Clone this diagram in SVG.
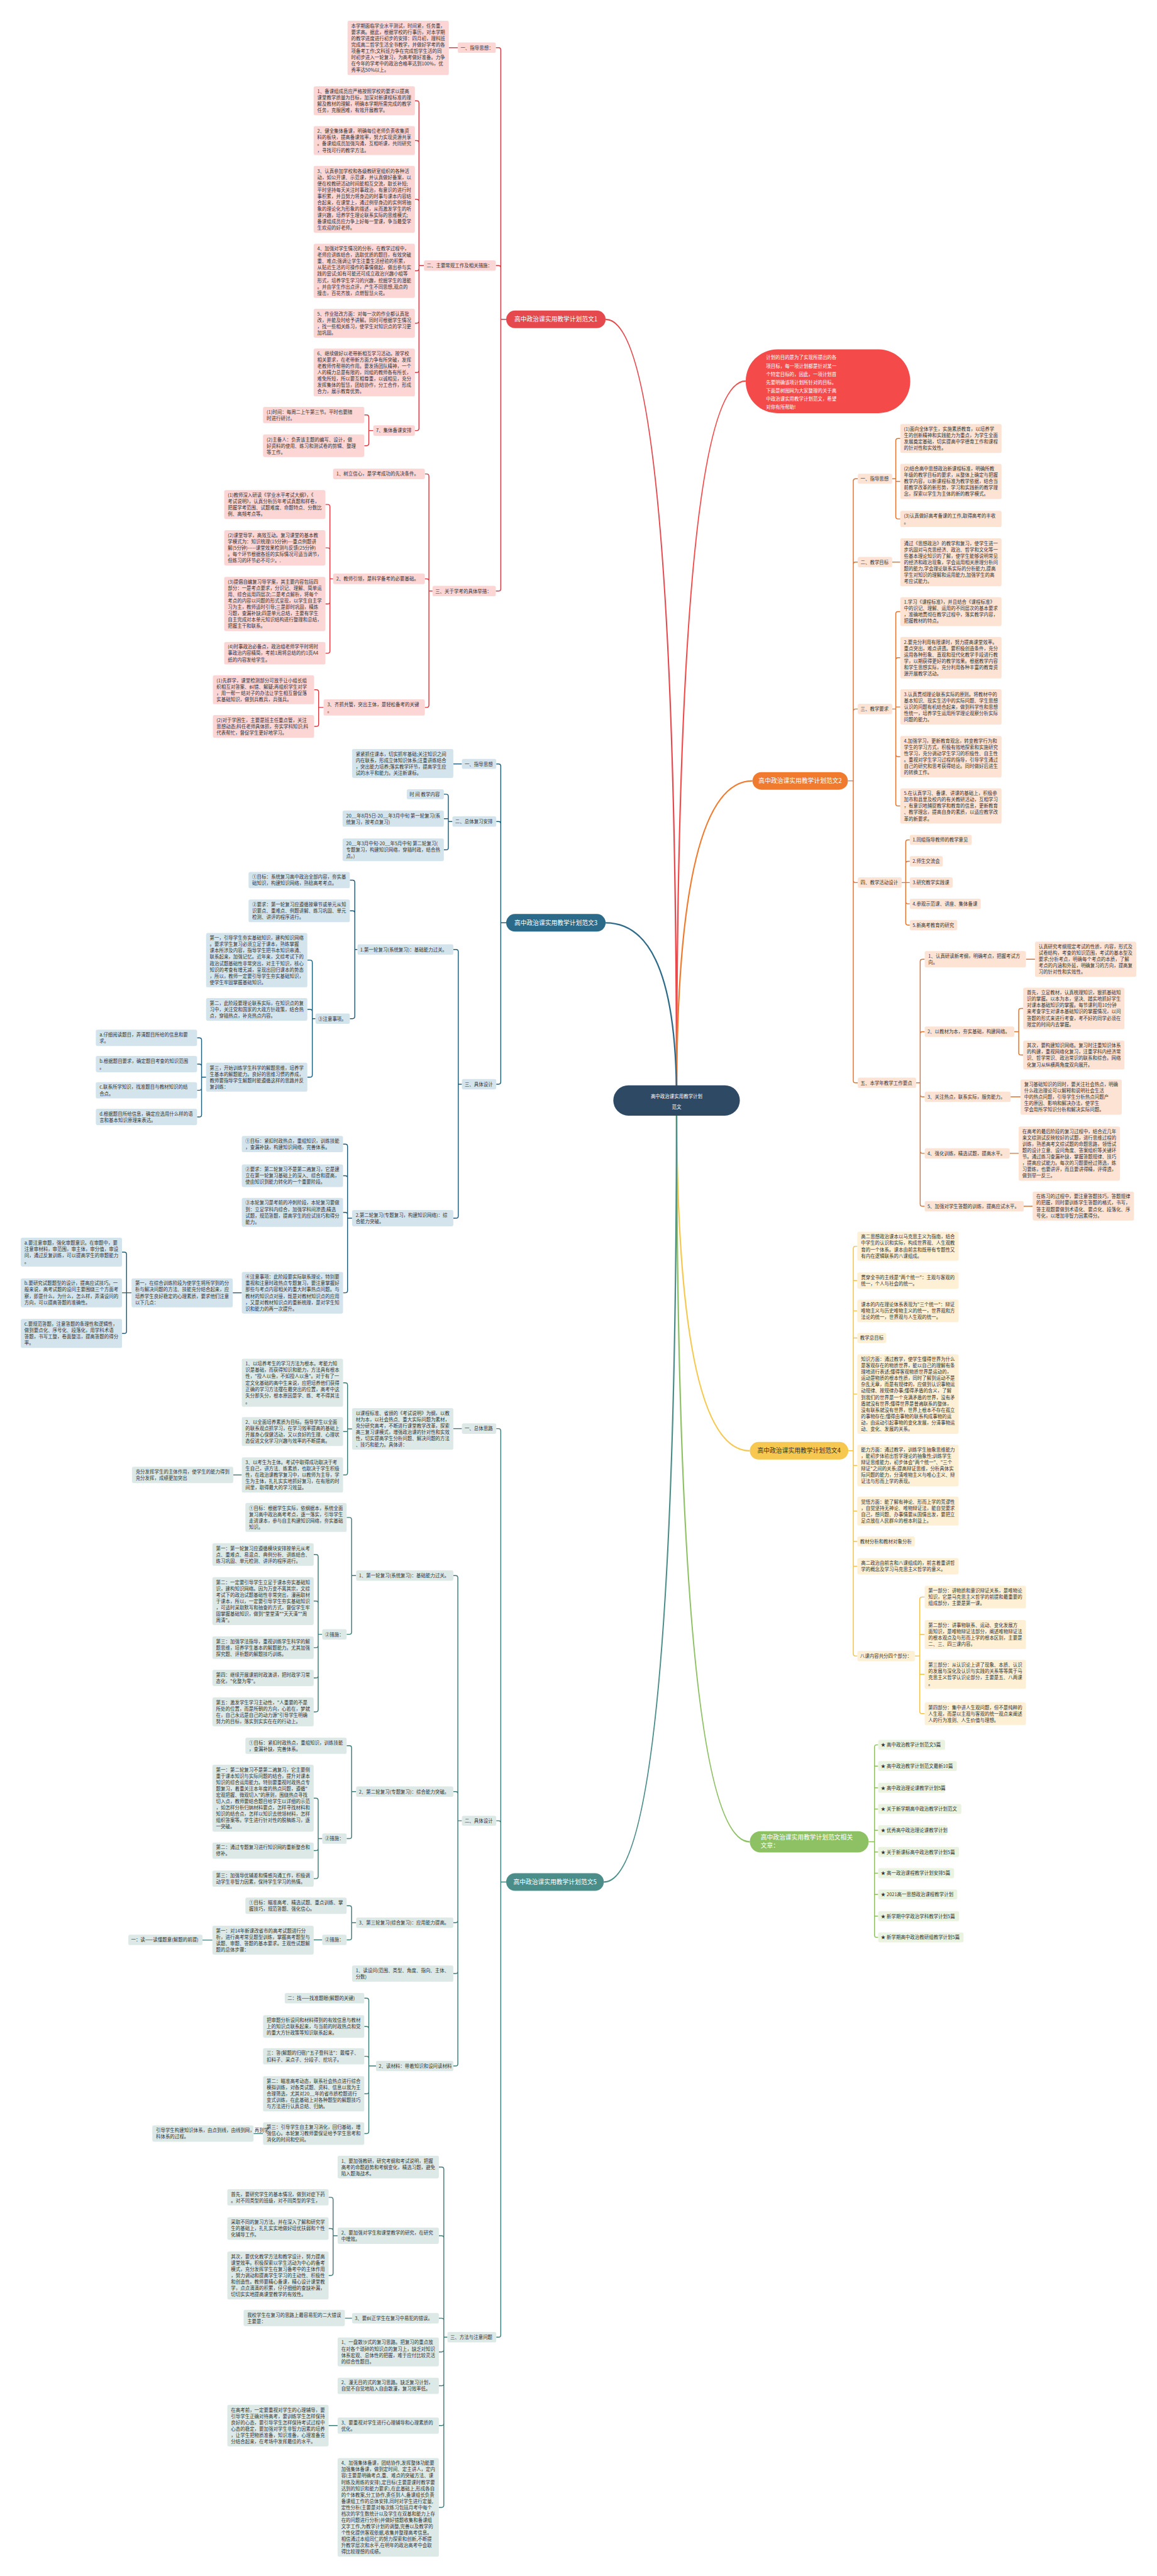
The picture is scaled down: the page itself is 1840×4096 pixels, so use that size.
<svg xmlns="http://www.w3.org/2000/svg" width="1840" height="4096" viewBox="0 0 1840 4096">
<style>
text{font-family:"Noto Sans CJK SC","Noto Sans",sans-serif;font-size:10.4px;fill:#333}
.pk{fill:#fcd5d5}.bl{fill:#d3e4ed}.tl{fill:#dce9e6}.pc{fill:#fde3d3}.yl{fill:#fdf0d4}.gn{fill:#e9f3df}
.l{fill:none;stroke-width:2}
.lr{stroke:#d9383e}.lb{stroke:#1e5c7a}.lt{stroke:#3c7c78}.lo{stroke:#e0702c}.ly{stroke:#f1c048}.lg{stroke:#8cbc5e}
.m{fill:none;stroke-width:3.2}
.w{fill:#fff}
.nt{font-size:13.6px}
</style>
<rect width="1840" height="4096" fill="#fff"/>
<g transform="scale(0.71875)">
<g id="connectors">
<path class="m" stroke="#e5484d" d="M1497,2434Q1497,706.5 1340,706.5"/>
<path class="m" stroke="#f44a4a" d="M1497,2434Q1497,843 1650,843"/>
<path class="m" stroke="#f07b2e" d="M1497,2434Q1497,1727.5 1665,1727.5"/>
<path class="m" stroke="#2b6a89" d="M1497,2434Q1497,2041.5 1340,2041.5"/>
<path class="m" stroke="#f7c84f" d="M1497,2434Q1497,3209.5 1659,3209.5"/>
<path class="m" stroke="#8dc163" d="M1497,2434Q1497,4074.5 1659,4074.5"/>
<path class="m" stroke="#4a8d89" d="M1497,2434Q1497,4163.5 1336,4163.5"/>
<path class="l lr" d="M1120,706.5H1108M1108,706.5V110.5Q1108,105.5 1103,105.5H1097M1108,706.5V592.5Q1108,587.5 1103,587.5H1097M1108,706.5V1302.5Q1108,1307.5 1103,1307.5H1097"/>
<path class="l lr" d="M1013,105.5H993"/>
<path class="l lr" d="M938,587.5H927M927,587.5V228Q927,223 922,223H918M927,587.5V316Q927,311 922,311H918M927,587.5V446Q927,441 922,441H918M927,587.5V594Q927,599 922,599H918M927,587.5V710Q927,715 922,715H918M927,587.5V819Q927,824 922,824H918M927,587.5V947.5Q927,952.5 922,952.5H918"/>
<path class="l lr" d="M826,952.5H816M816,952.5V923Q816,918 811,918H806M816,952.5V981Q816,986 811,986H806"/>
<path class="l lr" d="M957,1307.5H949M949,1307.5V1053.5Q949,1048.5 944,1048.5H940M949,1307.5V1285.5Q949,1280.5 944,1280.5H940M949,1307.5V1560Q949,1565 944,1565H940"/>
<path class="l lr" d="M737,1280.5H730M730,1280.5V1121Q730,1116 725,1116H720M730,1280.5V1217Q730,1212 725,1212H720M730,1280.5V1331Q730,1336 725,1336H720M730,1280.5V1440Q730,1445 725,1445H720"/>
<path class="l lr" d="M716,1565H705M705,1565V1531Q705,1526 700,1526H695M705,1565V1602Q705,1607 700,1607H695"/>
<path class="l lb" d="M1120,2041.5H1108M1108,2041.5V1695Q1108,1690 1103,1690H1098M1108,2041.5V1822.5Q1108,1817.5 1103,1817.5H1098M1108,2041.5V2393.5Q1108,2398.5 1103,2398.5H1098"/>
<path class="l lb" d="M1022,1690H1003"/>
<path class="l lb" d="M1001,1817.5H992M992,1817.5V1762Q992,1757 987,1757H982M992,1811H982M992,1817.5V1875Q992,1880 987,1880H982"/>
<path class="l lb" d="M1022,2398.5H1014M1014,2398.5V2105.5Q1014,2100.5 1009,2100.5H1003M1014,2398.5V2690Q1014,2695 1009,2695H1003"/>
<path class="l lb" d="M791,2100.5H785M785,2100.5V1952Q785,1947 780,1947H774M785,2100.5V2020Q785,2015 780,2015H774M785,2100.5V2248.5Q785,2253.5 780,2253.5H774"/>
<path class="l lb" d="M698,2253.5H691M691,2253.5V2129Q691,2124 686,2124H680M691,2253.5V2238Q691,2233 686,2233H680M691,2253.5V2378Q691,2383 686,2383H680"/>
<path class="l lb" d="M456,2383H446M446,2383V2301Q446,2296 441,2296H436M446,2383V2359Q446,2354 441,2354H436M446,2383V2407Q446,2412 441,2412H436M446,2383V2466Q446,2471 441,2471H436"/>
<path class="l lb" d="M779,2695H769M769,2695V2536Q769,2531 764,2531H759M769,2695V2606Q769,2601 764,2601H759M769,2695V2687Q769,2682 764,2682H759M769,2695V2855Q769,2860 764,2860H759"/>
<path class="l lb" d="M535,2860H515"/>
<path class="l lb" d="M291,2860H270M280,2860V2775Q280,2770 275,2770H270M280,2860V2945Q280,2950 275,2950H270"/>
<path class="l lt" d="M1120,4163.5H1108M1108,4163.5V3165.5Q1108,3160.5 1103,3160.5H1098M1108,4163.5V4033Q1108,4028 1103,4028H1098M1108,4163.5V5165.5Q1108,5170.5 1103,5170.5H1098"/>
<path class="l lt" d="M1022,3160.5H1003"/>
<path class="l lt" d="M779,3161H769M769,3161V3064Q769,3059 764,3059H759M769,3167H759M769,3161V3258Q769,3263 764,3263H759"/>
<path class="l lt" d="M535,3263H516"/>
<path class="l lt" d="M1022,4028H1013M1013,4028V3490.5Q1013,3485.5 1008,3485.5H1003M1013,4028V3968.5Q1013,3963.5 1008,3963.5H1003M1013,4028V4248.5Q1013,4253.5 1008,4253.5H1003M1013,4028V4361Q1013,4366 1008,4366H1003M1013,4028V4565.5Q1013,4570.5 1008,4570.5H1003"/>
<path class="l lt" d="M788,3485.5H778M778,3485.5V3362Q778,3357 773,3357H767M778,3485.5V3610.5Q778,3615.5 773,3615.5H767"/>
<path class="l lt" d="M713,3615.5H704M704,3615.5V3444Q704,3439 699,3439H694M704,3615.5V3547Q704,3542 699,3542H694M704,3615.5V3640Q704,3645 699,3645H694M704,3615.5V3707Q704,3712 699,3712H694M704,3615.5V3782Q704,3787 699,3787H694"/>
<path class="l lt" d="M788,3963.5H778M778,3963.5V3867Q778,3862 773,3862H767M778,3963.5V4062.5Q778,4067.5 773,4067.5H767"/>
<path class="l lt" d="M713,4067.5H704M704,4067.5V3983Q704,3978 699,3978H694M704,4067.5V4089Q704,4094 699,4094H694M704,4067.5V4151Q704,4156 699,4156H694"/>
<path class="l lt" d="M788,4253.5H778M778,4253.5V4221Q778,4216 773,4216H767M778,4253.5V4286.5Q778,4291.5 773,4291.5H767"/>
<path class="l lt" d="M713,4291.5H694M470,4292H448"/>
<path class="l lt" d="M832,4570.5H816M816,4570.5V4425.5Q816,4420.5 811,4420.5H806M816,4570.5V4488Q816,4483 811,4483H806M816,4570.5V4554Q816,4549 811,4549H806M816,4570.5V4627Q816,4632 811,4632H806M816,4570.5V4715Q816,4720 811,4720H806"/>
<path class="l lt" d="M582,4720H561"/>
<path class="l lt" d="M990,5170.5H982M982,5170.5V4799Q982,4794 977,4794H971M982,5170.5V4951Q982,4946 977,4946H971M982,5170.5V5133.5Q982,5128.5 977,5128.5H971M982,5170.5V5198Q982,5203 977,5203H971M982,5170.5V5273Q982,5278 977,5278H971M982,5170.5V5361Q982,5366 977,5366H971M982,5170.5V5542Q982,5547 977,5547H971"/>
<path class="l lt" d="M747,4946H737M737,4946V4866Q737,4861 732,4861H727M737,4946V4935Q737,4930 732,4930H727M737,4946V5029Q737,5034 732,5034H727"/>
<path class="l lt" d="M779,5128.5H763M747,5366H727"/>
<path class="l lo" d="M1876,1727.5H1888M1888,1727.5V1064Q1888,1059 1893,1059H1898M1888,1727.5V1248.5Q1888,1243.5 1893,1243.5H1898M1888,1727.5V1573.5Q1888,1568.5 1893,1568.5H1898M1888,1727.5V1947.5Q1888,1952.5 1893,1952.5H1898M1888,1727.5V2390.5Q1888,2395.5 1893,2395.5H1898"/>
<path class="l lo" d="M1974,1059H1982M1982,1059V975Q1982,970 1987,970H1992M1982,1065H1992M1982,1059V1143Q1982,1148 1987,1148H1992"/>
<path class="l lo" d="M1974,1243.5H1992"/>
<path class="l lo" d="M1974,1568.5H1982M1982,1568.5V1358Q1982,1353 1987,1353H1992M1982,1568.5V1460Q1982,1455 1987,1455H1992M1982,1564H1992M1982,1568.5V1669Q1982,1674 1987,1674H1992M1982,1568.5V1778Q1982,1783 1987,1783H1992"/>
<path class="l lo" d="M1995,1952.5H2013M2004,1952.5V1863Q2004,1858 2009,1858H2013M2004,1952.5V1910.5Q2004,1905.5 2009,1905.5H2013M2004,1952.5V1994.5Q2004,1999.5 2009,1999.5H2013M2004,1952.5V2041.5Q2004,2046.5 2009,2046.5H2013"/>
<path class="l lo" d="M2027,2395.5H2036M2036,2395.5V2127Q2036,2122 2041,2122H2046M2036,2395.5V2287.5Q2036,2282.5 2041,2282.5H2046M2036,2395.5V2421.5Q2036,2426.5 2041,2426.5H2046M2036,2395.5V2546.5Q2036,2551.5 2041,2551.5H2046M2036,2395.5V2663.5Q2036,2668.5 2041,2668.5H2046"/>
<path class="l lo" d="M2270,2122H2290M2244,2282.5H2254M2254,2282.5V2236Q2254,2231 2259,2231H2264M2254,2282.5V2329Q2254,2334 2259,2334H2264M2236,2426.5H2258M2234,2551.5H2254M2265,2668.5H2285"/>
<path class="l ly" d="M1877,3209.5H1888M1897,2757H1893Q1888,2757 1888,2762V3658.5Q1888,3663.5 1893,3663.5H1897M1888,2833H1897M1888,2900H1897M1888,2960H1897M1888,3084H1897M1888,3242H1897M1888,3343H1897M1888,3410H1897M1888,3465H1897"/>
<path class="l ly" d="M2024,3663.5H2035M2046,3533H2040Q2035,3533 2035,3538V3786Q2035,3791 2040,3791H2046M2035,3616H2046M2035,3704H2046"/>
<path class="l lg" d="M1922,4074.5H1935M1943,3860H1940Q1935,3860 1935,3865V4281Q1935,4286 1940,4286H1943M1935,3907H1943M1935,3955H1943M1935,4002H1943M1935,4049H1943M1935,4097H1943M1935,4144H1943M1935,4191H1943M1935,4239H1943"/>
</g>
<g id="center"><rect x="1357" y="2401" width="280" height="67" rx="33.5" fill="#2d4963"/><text class="w" x="1497" y="2429" text-anchor="middle" font-size="18.5">高中政治课实用教学计划<tspan x="1497" dy="24">范文</tspan></text></g>
<g id="intro"><rect x="1650" y="773" width="364" height="141" rx="70" fill="#f44a4a"/><text class="w" x="1695" y="795" font-size="16">计划的目的是为了实现所提出的各<tspan x="1695" dy="18.3">项目标，每一项计划都是针对某一</tspan><tspan x="1695" dy="18.3">个特定目标的，因此，一项计划首</tspan><tspan x="1695" dy="18.3">先要明确该项计划所针对的目标。</tspan><tspan x="1695" dy="18.3">下面是树图网为大家整理的关于高</tspan><tspan x="1695" dy="18.3">中政治课实用教学计划范文，希望</tspan><tspan x="1695" dy="18.3">对你有所帮助!</tspan></text></g>
<g id="fan1"><rect x="1120" y="687" width="220" height="39" rx="19.5" fill="#e5484d"/><text class="w nt" x="1230" y="711.3" text-anchor="middle">高中政治课实用教学计划范文1</text></g>
<g id="f1-1"><rect class="pk" x="1013" y="94" width="84" height="23" rx="4"/><text x="1019" y="109.5">一、指导思想：</text></g>
<g id="f1-1a"><rect class="pk" x="769" y="46" width="224" height="120" rx="4"/><text x="777" y="61">本学期面临学业水平测试，时间紧，任务重，<tspan x="777" dy="14">要求高。据此，根据学校的行事历，对本学期</tspan><tspan x="777" dy="14">的教学进度进行初步的安排：四月初，理科班</tspan><tspan x="777" dy="14">完成高二哲学生活全书教学，并做好学考的各</tspan><tspan x="777" dy="14">项备考工作;文科班力争在完成哲学生活的同</tspan><tspan x="777" dy="14">时初步进入一轮复习，为高考做好准备。力争</tspan><tspan x="777" dy="14">在今年的学考中的政治合格率达到100%，优</tspan><tspan x="777" dy="14">秀率达50%以上。</tspan></text></g>
<g id="f1-2"><rect class="pk" x="938" y="576" width="159" height="23" rx="4"/><text x="944" y="591.5">二、主要常规工作及相关措施：</text></g>
<g id="f1-2a"><rect class="pk" x="694" y="191" width="224" height="64" rx="4"/><text x="702" y="206">1、备课组成员应严格按照学校的要求以提高<tspan x="702" dy="14">课堂教学质量为目标，加深对新课程标准的理</tspan><tspan x="702" dy="14">解及教材的理解，明确本学期所需完成的教学</tspan><tspan x="702" dy="14">任务，克服困难，有效开展教学。</tspan></text></g>
<g id="f1-2b"><rect class="pk" x="694" y="279" width="224" height="64" rx="4"/><text x="702" y="294">2、健全集体备课，明确每位老师负责收集资<tspan x="702" dy="14">料的板块，提高备课效率，努力实现资源共享</tspan><tspan x="702" dy="14">。备课组成员加强沟通，互相听课，共同研究</tspan><tspan x="702" dy="14">，寻找可行的教学方法。</tspan></text></g>
<g id="f1-2c"><rect class="pk" x="694" y="367" width="224" height="148" rx="4"/><text x="702" y="382">3、认真参加学校和各级教研室组织的各种活<tspan x="702" dy="14">动，如公开课、示范课，并认真做好备案，以</tspan><tspan x="702" dy="14">便在校教研活动时间能相互交流，取长补短;</tspan><tspan x="702" dy="14">平时坚持每天关注时事政治，有意识的进行时</tspan><tspan x="702" dy="14">事积累，并且努力将身边的时事与课本内容结</tspan><tspan x="702" dy="14">合起来，在课堂上，通过例举身边的实例将抽</tspan><tspan x="702" dy="14">象的理论化为形象的描述，从而激发学生的听</tspan><tspan x="702" dy="14">课兴趣，培养学生理论联系实际的思维模式;</tspan><tspan x="702" dy="14">备课组成员应力争上好每一堂课，争当最受学</tspan><tspan x="702" dy="14">生欢迎的好老师。</tspan></text></g>
<g id="f1-2d"><rect class="pk" x="694" y="539" width="224" height="120" rx="4"/><text x="702" y="554">4、加强对学生情况的分析，在教学过程中，<tspan x="702" dy="14">老师应讲练结合，选取优质的题目，有效突破</tspan><tspan x="702" dy="14">重、难点;强调让学生注重生活经验的积累，</tspan><tspan x="702" dy="14">从贴近生活的可操作的事情做起，做出参与实</tspan><tspan x="702" dy="14">践的尝试;如有可能还可成立政治兴趣小组等</tspan><tspan x="702" dy="14">形式，培养学生学习的兴趣，挖掘学生的潜能</tspan><tspan x="702" dy="14">。并由学生作出点评，产生不同思想,观点的</tspan><tspan x="702" dy="14">撞击，百花齐放，点燃智慧火花。</tspan></text></g>
<g id="f1-2e"><rect class="pk" x="694" y="683" width="224" height="64" rx="4"/><text x="702" y="698">5、作业批改方面：对每一次的作业都认真批<tspan x="702" dy="14">改，并能及时给予讲解。同时可根据学生情况</tspan><tspan x="702" dy="14">，找一些相关练习，使学生对知识点的学习更</tspan><tspan x="702" dy="14">加巩固。</tspan></text></g>
<g id="f1-2f"><rect class="pk" x="694" y="771" width="224" height="106" rx="4"/><text x="702" y="786">6、继续做好以老带新相互学习活动。按学校<tspan x="702" dy="14">相关要求，在老带新方面力争有所突破，发挥</tspan><tspan x="702" dy="14">老教师传帮带的作用。要发扬团队精神，一个</tspan><tspan x="702" dy="14">人的精力总是有限的，同组的教师各有所长，</tspan><tspan x="702" dy="14">难免所短，所以要互相尊重，以诚相见，充分</tspan><tspan x="702" dy="14">发挥集体的智慧，团结协作，分工合作，形成</tspan><tspan x="702" dy="14">合力，展示教育优势。</tspan></text></g>
<g id="f1-2g"><rect class="pk" x="826" y="941" width="92" height="23" rx="4"/><text x="832" y="956.5">7、集体备课安排</text></g>
<g id="f1-2g1"><rect class="pk" x="582" y="900" width="224" height="36" rx="4"/><text x="590" y="915">(1)时间：每周二上午第三节。平时也要随<tspan x="590" dy="14">时进行研讨。</tspan></text></g>
<g id="f1-2g2"><rect class="pk" x="582" y="961" width="224" height="50" rx="4"/><text x="590" y="976">(2)主备人：负责该主题的编写、设计，做<tspan x="590" dy="14">好资料的使用、练习和测试卷的剪辑、整理</tspan><tspan x="590" dy="14">等工作。</tspan></text></g>
<g id="f1-3"><rect class="pk" x="957" y="1296" width="140" height="23" rx="4"/><text x="963" y="1311.5">三、关于学考的具体举措：</text></g>
<g id="f1-3a"><rect class="pk" x="737" y="1037" width="203" height="23" rx="4"/><text x="744" y="1052.5">1、树立信心，是学考成功的先决条件。</text></g>
<g id="f1-3b"><rect class="pk" x="737" y="1269" width="203" height="23" rx="4"/><text x="744" y="1284.5">2、教师引领，是科学备考的必要基础。</text></g>
<g id="f1-3b1"><rect class="pk" x="496" y="1084" width="224" height="64" rx="4"/><text x="504" y="1099">(1)教师深入研读《学业水平考试大纲》，《<tspan x="504" dy="14">考试说明》，认真分析历年考试真题和样卷，</tspan><tspan x="504" dy="14">把握学考范围、试题难度、命题特点、分数比</tspan><tspan x="504" dy="14">例、高频考点等。</tspan></text></g>
<g id="f1-3b2"><rect class="pk" x="496" y="1173" width="224" height="78" rx="4"/><text x="504" y="1188">(2)课堂导学，高效互动。复习课堂的基本教<tspan x="504" dy="14">学模式为：知识梳理(15分钟)---重点例题讲</tspan><tspan x="504" dy="14">解(5分钟)-----课堂效果检测与反馈(25分钟)</tspan><tspan x="504" dy="14">。每个环节根据各班的实际情况可适当调节，</tspan><tspan x="504" dy="14">但练习的环节必不可少。.</tspan></text></g>
<g id="f1-3b3"><rect class="pk" x="496" y="1276" width="224" height="120" rx="4"/><text x="504" y="1291">(3)提倡自编复习导学案，其主要内容包括四<tspan x="504" dy="14">部分：一是考点要求，分识记、理解、简单运</tspan><tspan x="504" dy="14">用、综合运用四层次;二是考点解析，将每个</tspan><tspan x="504" dy="14">考点的内容以问题的形式呈现，以学生自主学</tspan><tspan x="504" dy="14">习为主，教师适时引导;三是即时巩固，精炼</tspan><tspan x="504" dy="14">习题，查漏补缺;四是单元总结，主要有学生</tspan><tspan x="504" dy="14">自主完成对本单元知识结构进行整理和总结，</tspan><tspan x="504" dy="14">把握主干和联系。</tspan></text></g>
<g id="f1-3b4"><rect class="pk" x="496" y="1420" width="224" height="50" rx="4"/><text x="504" y="1435">(4)时事政治必备点，政治组老师学平时将时<tspan x="504" dy="14">事政治内容精简，考前1周将总结的约1页A4</tspan><tspan x="504" dy="14">纸的内容发给学生。</tspan></text></g>
<g id="f1-3c"><rect class="pk" x="716" y="1547" width="224" height="36" rx="4"/><text x="724" y="1562">3、齐抓共管，突出主体，是轻松备考的关键<tspan x="724" dy="14">。</tspan></text></g>
<g id="f1-3c1"><rect class="pk" x="471" y="1494" width="224" height="64" rx="4"/><text x="479" y="1509">(1)先群学，课堂检测部分可放手让小组长组<tspan x="479" dy="14">织相互对答案、纠错、解疑;再组织学生对学</tspan><tspan x="479" dy="14">，用一帮一 结对子的办法让学生相互督促落</tspan><tspan x="479" dy="14">实基础知识，做到兵教兵，兵强兵。</tspan></text></g>
<g id="f1-3c2"><rect class="pk" x="471" y="1582" width="224" height="50" rx="4"/><text x="479" y="1597">(2)对于学困生，主要是班主任重点管，关注<tspan x="479" dy="14">思想动态;科任老师具体抓，夯实学科知识;科</tspan><tspan x="479" dy="14">代表帮忙，督促学生更好地学习。</tspan></text></g>
<g id="fan3"><rect x="1120" y="2022" width="220" height="39" rx="19.5" fill="#2b6a89"/><text class="w nt" x="1230" y="2046.3" text-anchor="middle">高中政治课实用教学计划范文3</text></g>
<g id="f3-1"><rect class="bl" x="1022" y="1679" width="76" height="22" rx="4"/><text x="1028" y="1694">一、指导思想</text></g>
<g id="f3-1a"><rect class="bl" x="779" y="1657" width="224" height="64" rx="4"/><text x="787" y="1672">紧紧抓住课本，切实抓牢基础;关注知识之间<tspan x="787" dy="14">内在联系，形成立体知识体系;注重讲练结合</tspan><tspan x="787" dy="14">，突出能力培养;落实教学环节，提高学生应</tspan><tspan x="787" dy="14">试的水平和能力。关注新课标。</tspan></text></g>
<g id="f3-2"><rect class="bl" x="1001" y="1806" width="97" height="23" rx="4"/><text x="1007" y="1821.5">二、总体复习安排</text></g>
<g id="f3-2a"><rect class="bl" x="900" y="1746" width="82" height="22" rx="4"/><text x="906" y="1761">时 间 教学内容</text></g>
<g id="f3-2b"><rect class="bl" x="758" y="1793" width="224" height="36" rx="4"/><text x="766" y="1808">20__年8月5日-20__年3月中旬 第一轮复习(系<tspan x="766" dy="14">统复习，按考点复习)</tspan></text></g>
<g id="f3-2c"><rect class="bl" x="758" y="1855" width="224" height="50" rx="4"/><text x="766" y="1870">20__年3月中旬-20__年5月中旬 第二轮复习(<tspan x="766" dy="14">专题复习，构建知识网络，穿插时政，结合热</tspan><tspan x="766" dy="14">点。)</tspan></text></g>
<g id="f3-3"><rect class="bl" x="1022" y="2387" width="76" height="23" rx="4"/><text x="1028" y="2402.5">三、具体设计</text></g>
<g id="f3-3a"><rect class="bl" x="791" y="2089" width="212" height="23" rx="4"/><text x="797" y="2104.5">1.第一轮复习(系统复习)：基础能力过关。</text></g>
<g id="f3-3a1"><rect class="bl" x="550" y="1929" width="224" height="36" rx="4"/><text x="558" y="1944">①目标：系统复习高中政治全部内容，夯实基<tspan x="558" dy="14">础知识，构建知识网络，熟稔高考考点。</tspan></text></g>
<g id="f3-3a2"><rect class="bl" x="550" y="1990" width="224" height="50" rx="4"/><text x="558" y="2005">②要求：第一轮复习应遵循按章节或单元从知<tspan x="558" dy="14">识要点、重难点、例题讲解、练习巩固、单元</tspan><tspan x="558" dy="14">检测、讲评的程序进行。</tspan></text></g>
<g id="f3-3a3"><rect class="bl" x="698" y="2242" width="76" height="23" rx="4"/><text x="704" y="2257.5">③注意事项。</text></g>
<g id="f3-3a3a"><rect class="bl" x="456" y="2064" width="224" height="120" rx="4"/><text x="464" y="2079">第一，引导学生夯实基础知识，建构知识网络<tspan x="464" dy="14">。要求学生复习必须立足于课本，熟练掌握</tspan><tspan x="464" dy="14">课本所涉及内容，指导学生把书本知识串通、</tspan><tspan x="464" dy="14">联系起来，加强记忆。近年来，文综考试下的</tspan><tspan x="464" dy="14">政治试题基础性非常突出，对主干知识，核心</tspan><tspan x="464" dy="14">知识的考查有增无减，呈现出回归课本的势态</tspan><tspan x="464" dy="14">，所以，教师一定要引导学生夯实基础知识，</tspan><tspan x="464" dy="14">使学生牢固掌握基础知识。</tspan></text></g>
<g id="f3-3a3b"><rect class="bl" x="456" y="2208" width="224" height="50" rx="4"/><text x="464" y="2223">第二，此阶段要理论联系实际，在知识点的复<tspan x="464" dy="14">习中，关注党和国家的大政方针政策，结合热</tspan><tspan x="464" dy="14">点，穿插热点，补充热点内容。</tspan></text></g>
<g id="f3-3a3c"><rect class="bl" x="456" y="2351" width="224" height="64" rx="4"/><text x="464" y="2366">第三，开始训练学生科学的解题思维，培养学<tspan x="464" dy="14">生基本的解题能力。良好的思维习惯的养成，</tspan><tspan x="464" dy="14">教师要指导学生解题时能遵循这样的思路并反</tspan><tspan x="464" dy="14">复训练：</tspan></text></g>
<g id="f3-3a3c1"><rect class="bl" x="212" y="2278" width="224" height="36" rx="4"/><text x="220" y="2293">a.仔细阅读题目，弄清题目所给的信息和要<tspan x="220" dy="14">求。</tspan></text></g>
<g id="f3-3a3c2"><rect class="bl" x="212" y="2336" width="224" height="36" rx="4"/><text x="220" y="2351">b.根据题目要求，确定题目考查的知识范围<tspan x="220" dy="14">。</tspan></text></g>
<g id="f3-3a3c3"><rect class="bl" x="212" y="2394" width="224" height="36" rx="4"/><text x="220" y="2409">c.联系所学知识，找准题目与教材知识的结<tspan x="220" dy="14">合点。</tspan></text></g>
<g id="f3-3a3c4"><rect class="bl" x="212" y="2453" width="224" height="36" rx="4"/><text x="220" y="2468">d.根据题目所给信息，确定应选用什么样的语<tspan x="220" dy="14">言和基本知识原理来表达。</tspan></text></g>
<g id="f3-3b"><rect class="bl" x="779" y="2677" width="224" height="36" rx="4"/><text x="787" y="2692">2.第二轮复习(专题复习，构建知识网络)：综<tspan x="787" dy="14">合能力突破。</tspan></text></g>
<g id="f3-3b1"><rect class="bl" x="535" y="2513" width="224" height="36" rx="4"/><text x="543" y="2528">①目标：紧扣时政热点，重组知识，训练技能<tspan x="543" dy="14">，查漏补缺，构建知识网络，完善体系。</tspan></text></g>
<g id="f3-3b2"><rect class="bl" x="535" y="2576" width="224" height="50" rx="4"/><text x="543" y="2591">②要求：第二轮复习不是第二遍复习，它是建<tspan x="543" dy="14">立在第一轮复习基础上的深入、综合和提高，</tspan><tspan x="543" dy="14">使由知识到能力转化的一个重要阶段。</tspan></text></g>
<g id="f3-3b3"><rect class="bl" x="535" y="2650" width="224" height="64" rx="4"/><text x="543" y="2665">③本轮复习是考前的冲刺阶段，本轮复习要做<tspan x="543" dy="14">到：立足学科内综合，加强学科间渗透;精选</tspan><tspan x="543" dy="14">试题，规范答题，提高学生的应试技巧和得分</tspan><tspan x="543" dy="14">能力。</tspan></text></g>
<g id="f3-3b4"><rect class="bl" x="535" y="2814" width="224" height="92" rx="4"/><text x="543" y="2829">④注意事项：此阶段要实际联系理论，特别要<tspan x="543" dy="14">重视和注意时政热点专题复习，要注意掌握好</tspan><tspan x="543" dy="14">那些与考点内容相关的重大时事热点问题。与</tspan><tspan x="543" dy="14">教材的知识点对接，既是对教材知识点的应用</tspan><tspan x="543" dy="14">，又是对教材知识点的重新梳理，是对学生知</tspan><tspan x="543" dy="14">识和能力的再一次提升。</tspan></text></g>
<g id="f3-3b4a"><rect class="bl" x="291" y="2828" width="224" height="64" rx="4"/><text x="299" y="2843">第一，在综合训练阶段为使学生将所学到的分<tspan x="299" dy="14">析与解决问题的方法、技能充分结合起来，应</tspan><tspan x="299" dy="14">培养学生良好稳定的心理素质，要求他们注意</tspan><tspan x="299" dy="14">以下几点：</tspan></text></g>
<g id="f3-3b4a1"><rect class="bl" x="46" y="2738" width="224" height="64" rx="4"/><text x="54" y="2753">a.要注意审题，强化审题意识。在审题中，要<tspan x="54" dy="14">注意审材料，审范围，审主体，审分值，审设</tspan><tspan x="54" dy="14">问，通过反复训练，可以提高学生的审题能力</tspan><tspan x="54" dy="14">。</tspan></text></g>
<g id="f3-3b4a2"><rect class="bl" x="46" y="2828" width="224" height="64" rx="4"/><text x="54" y="2843">b.要研究试题题型的设计，提高应试技巧。一<tspan x="54" dy="14">般来说，高考试题的设问主要围绕三个方面考</tspan><tspan x="54" dy="14">察，即是什么，为什么，怎么样，弄清设问的</tspan><tspan x="54" dy="14">方向，可以提高答题的准确性。</tspan></text></g>
<g id="f3-3b4a3"><rect class="bl" x="46" y="2918" width="224" height="64" rx="4"/><text x="54" y="2933">c.要规范答题，注意答题的条理性和逻辑性，<tspan x="54" dy="14">做到要点化、序号化、段落化，用学科术语</tspan><tspan x="54" dy="14">答题，书写工整，卷面整洁，提高答题的得分</tspan><tspan x="54" dy="14">率。</tspan></text></g>
<g id="fan5"><rect x="1120" y="4144" width="216" height="39" rx="19.5" fill="#4a8d89"/><text class="w nt" x="1228" y="4168.3" text-anchor="middle">高中政治课实用教学计划范文5</text></g>
<g id="f5-1"><rect class="tl" x="1022" y="3149" width="76" height="23" rx="4"/><text x="1028" y="3164.5">一、总体思路</text></g>
<g id="f5-1a"><rect class="tl" x="779" y="3115" width="224" height="92" rx="4"/><text x="787" y="3130">以课程标准、省颁的《考试说明》为纲，以教<tspan x="787" dy="14">材为本，以社会热点、重大实际问题为素材，</tspan><tspan x="787" dy="14">充分研究高考，不断进行课堂教学改革，探索</tspan><tspan x="787" dy="14">高三复习课模式，增强政治课的针对性和实效</tspan><tspan x="787" dy="14">性，切实提高学生分析问题、解决问题的方法</tspan><tspan x="787" dy="14">、技巧和能力。具体讲：</tspan></text></g>
<g id="f5-1a1"><rect class="tl" x="535" y="3006" width="224" height="106" rx="4"/><text x="543" y="3021">1、以培养考生的学习方法为根本。考能力知<tspan x="543" dy="14">识是基础，而获得知识和能力，方法具有根本</tspan><tspan x="543" dy="14">性，"授人以鱼，不如授人以渔"。对于有了一</tspan><tspan x="543" dy="14">定文化基础的高中生来说，应把培养他们获得</tspan><tspan x="543" dy="14">正确的学习方法摆在最突出的位置，高考中这</tspan><tspan x="543" dy="14">失分那失分，根本原因是学、练、考不得其法</tspan><tspan x="543" dy="14">。</tspan></text></g>
<g id="f5-1a2"><rect class="tl" x="535" y="3135" width="224" height="64" rx="4"/><text x="543" y="3150">2、以全面培养素质为目标。指导学生以全面<tspan x="543" dy="14">的联系观点抓学习，在学习效率提高的基础上</tspan><tspan x="543" dy="14">开展身心保健活动，又以良好的生理、心理状</tspan><tspan x="543" dy="14">态促进文化学习兴趣与效率的不断提高。</tspan></text></g>
<g id="f5-1a3"><rect class="tl" x="535" y="3224" width="224" height="78" rx="4"/><text x="543" y="3239">3、以考生为主体。考试中取得成功取决于考<tspan x="543" dy="14">生自己，讲方法、练素质，也取决于学生积极</tspan><tspan x="543" dy="14">性，在政治课教学复习中，以教师为主导，学</tspan><tspan x="543" dy="14">生为主体，扎扎实实地抓好复习，在有限的时</tspan><tspan x="543" dy="14">间里，取得最大的学习效益。</tspan></text></g>
<g id="f5-1a3a"><rect class="tl" x="292" y="3245" width="224" height="36" rx="4"/><text x="300" y="3260">充分发挥学生的主体作用，使学生的能力得到<tspan x="300" dy="14">充分发挥，成绩更加突出</tspan></text></g>
<g id="f5-2"><rect class="tl" x="1022" y="4017" width="76" height="22" rx="4"/><text x="1028" y="4032">二、具体设计</text></g>
<g id="f5-2a"><rect class="tl" x="788" y="3474" width="215" height="23" rx="4"/><text x="794" y="3489.5">1、第一轮复习(系统复习)：基础能力过关。</text></g>
<g id="f5-2a1"><rect class="tl" x="543" y="3325" width="224" height="64" rx="4"/><text x="551" y="3340">①目标：根据学生实际，依纲据本，系统全面<tspan x="551" dy="14">复习高中政治高考考点，逐一落实，引导学生</tspan><tspan x="551" dy="14">走进课本，参与自主构建知识网络，夯实基础</tspan><tspan x="551" dy="14">知识。</tspan></text></g>
<g id="f5-2a2"><rect class="tl" x="713" y="3604" width="54" height="23" rx="4"/><text x="719" y="3619.5">②措施：</text></g>
<g id="f5-2a2a"><rect class="tl" x="470" y="3414" width="224" height="50" rx="4"/><text x="478" y="3429">第一：第一轮复习应遵循模块安排按单元从考<tspan x="478" dy="14">点、重难点、易混点、典例分析、讲练结合、</tspan><tspan x="478" dy="14">练习巩固、单元检测、讲评的程序进行。</tspan></text></g>
<g id="f5-2a2b"><rect class="tl" x="470" y="3489" width="224" height="106" rx="4"/><text x="478" y="3504">第二：一定要引导学生立足于课本夯实基础知<tspan x="478" dy="14">识，建构知识网络。因为万变不离其宗，文综</tspan><tspan x="478" dy="14">考试下的政治试题基础性非常突出，漫画取材</tspan><tspan x="478" dy="14">于课本，所以，一定要引导学生夯实基础知识</tspan><tspan x="478" dy="14">，可适时采取默写和抽查的方式，督促学生牢</tspan><tspan x="478" dy="14">固掌握基础知识，做到"堂堂清""天天清""周</tspan><tspan x="478" dy="14">周清"。</tspan></text></g>
<g id="f5-2a2c"><rect class="tl" x="470" y="3620" width="224" height="50" rx="4"/><text x="478" y="3635">第三：加强学法指导，重视训练学生科学的解<tspan x="478" dy="14">题思维，培养学生基本的解题能力。尤其加强</tspan><tspan x="478" dy="14">探究题、评析题的解题技巧训练。</tspan></text></g>
<g id="f5-2a2d"><rect class="tl" x="470" y="3694" width="224" height="36" rx="4"/><text x="478" y="3709">第四：继续开展课前时政演讲，把时政学习常<tspan x="478" dy="14">态化，"化整为零"。</tspan></text></g>
<g id="f5-2a2e"><rect class="tl" x="470" y="3755" width="224" height="64" rx="4"/><text x="478" y="3770">第五：激发学生学习主动性，"人重要的不是<tspan x="478" dy="14">所处的位置，而是所朝的方向，心若在，梦就</tspan><tspan x="478" dy="14">在，自己永远是自己的动力源"引导学生明确</tspan><tspan x="478" dy="14">努力的目标，落实到实实在在的行动上。</tspan></text></g>
<g id="f5-2b"><rect class="tl" x="788" y="3952" width="215" height="23" rx="4"/><text x="794" y="3967.5">2、第二轮复习(专题复习)：综合能力突破。</text></g>
<g id="f5-2b1"><rect class="tl" x="543" y="3844" width="224" height="36" rx="4"/><text x="551" y="3859">①目标：紧扣时政热点，重组知识，训练技能<tspan x="551" dy="14">，查漏补缺，完善体系。</tspan></text></g>
<g id="f5-2b2"><rect class="tl" x="713" y="4056" width="54" height="23" rx="4"/><text x="719" y="4071.5">②措施：</text></g>
<g id="f5-2b2a"><rect class="tl" x="470" y="3904" width="224" height="148" rx="4"/><text x="478" y="3919">第一：第二轮复习不是第二遍复习，它主要侧<tspan x="478" dy="14">重于课本知识与实际问题的结合，提升对课本</tspan><tspan x="478" dy="14">知识的综合运用能力。特别要重视时政热点专</tspan><tspan x="478" dy="14">题复习，着重关注本年度的热点问题，遵循"</tspan><tspan x="478" dy="14">宏观把握、微观切入"的原则，围绕热点寻找</tspan><tspan x="478" dy="14">切入点，教师要结合题目给学生以详细的示范</tspan><tspan x="478" dy="14">，如怎样分析归纳材料要点，怎样寻找材料和</tspan><tspan x="478" dy="14">知识的结合点，怎样以知识去统领材料，怎样</tspan><tspan x="478" dy="14">组织答案等。学生进行针对性的脱稿练习，逐</tspan><tspan x="478" dy="14">一突破。</tspan></text></g>
<g id="f5-2b2b"><rect class="tl" x="470" y="4076" width="224" height="36" rx="4"/><text x="478" y="4091">第二：通过专题复习进行知识网的重新整合和<tspan x="478" dy="14">修补。</tspan></text></g>
<g id="f5-2b2c"><rect class="tl" x="470" y="4138" width="224" height="36" rx="4"/><text x="478" y="4153">第三：加强导优辅差和情感沟通工作，积极调<tspan x="478" dy="14">动学生非智力因素，保持学生学习的热情。</tspan></text></g>
<g id="f5-2c"><rect class="tl" x="788" y="4242" width="215" height="23" rx="4"/><text x="794" y="4257.5">3、第三轮复习(综合复习)：应用能力提高。</text></g>
<g id="f5-2c1"><rect class="tl" x="543" y="4198" width="224" height="36" rx="4"/><text x="551" y="4213">①目标：瞄准高考、精选试题、重点训练、掌<tspan x="551" dy="14">握技巧，规范答题、强化信心。</tspan></text></g>
<g id="f5-2c2"><rect class="tl" x="713" y="4280" width="54" height="23" rx="4"/><text x="719" y="4295.5">②措施：</text></g>
<g id="f5-2c2a"><rect class="tl" x="470" y="4260" width="224" height="64" rx="4"/><text x="478" y="4275">第一：对14年新课改省市的高考试题进行分<tspan x="478" dy="14">析，进行高考常见题型训练，掌握高考题型与</tspan><tspan x="478" dy="14">读题、审题、答题的基本要求。主观性试题解</tspan><tspan x="478" dy="14">题的总体步骤：</tspan></text></g>
<g id="f5-2c2a1"><rect class="tl" x="284" y="4280" width="164" height="23" rx="4"/><text x="290" y="4295.5">一：读——读懂题意(解题的前提)</text></g>
<g id="f5-2d"><rect class="tl" x="779" y="4348" width="224" height="36" rx="4"/><text x="787" y="4363">1、读设问(范围、类型、角度、指向、主体、<tspan x="787" dy="14">分数)</tspan></text></g>
<g id="f5-2e"><rect class="tl" x="832" y="4559" width="171" height="23" rx="4"/><text x="838" y="4574.5">2、读材料：带着知识和设问读材料</text></g>
<g id="f5-2e1"><rect class="tl" x="630" y="4409" width="176" height="23" rx="4"/><text x="636" y="4424.5">二：找——找准题眼(解题的关键)</text></g>
<g id="f5-2e2"><rect class="tl" x="582" y="4458" width="224" height="50" rx="4"/><text x="590" y="4473">把审题分析设问和材料得到的有效信息与教材<tspan x="590" dy="14">上的知识点联系起来，与当前的时政热点和党</tspan><tspan x="590" dy="14">的重大方针政策等知识联系起来。</tspan></text></g>
<g id="f5-2e3"><rect class="tl" x="582" y="4531" width="224" height="36" rx="4"/><text x="590" y="4546">三：答(解题的归宿)"五子登科法"：戴帽子、<tspan x="590" dy="14">扣料子、采点子、分段子、挖坑子。</tspan></text></g>
<g id="f5-2e4"><rect class="tl" x="582" y="4593" width="224" height="78" rx="4"/><text x="590" y="4608">第二：瞄准高考动态，联系社会热点进行综合<tspan x="590" dy="14">模拟训练，对各类试题、资料、信息以我为主</tspan><tspan x="590" dy="14">合理筛选，尤其对20__年的省市质检题进行</tspan><tspan x="590" dy="14">变式训练，在此基础上对各种题型的解题技巧</tspan><tspan x="590" dy="14">与方法进行认真总结、归纳。</tspan></text></g>
<g id="f5-2e5"><rect class="tl" x="582" y="4695" width="224" height="50" rx="4"/><text x="590" y="4710">第三：引导学生自主复习消化，回归基础，增<tspan x="590" dy="14">强信心。本轮复习教师要保证给予学生思考和</tspan><tspan x="590" dy="14">消化的时间和空间。</tspan></text></g>
<g id="f5-2e5a"><rect class="tl" x="337" y="4702" width="224" height="36" rx="4"/><text x="345" y="4717">引导学生构建知识体系，由点到线，由线到网，再到学<tspan x="345" dy="14">科体系的过程。</tspan></text></g>
<g id="f5-3"><rect class="tl" x="990" y="5159" width="108" height="23" rx="4"/><text x="996" y="5174.5">三、方法与注意问题</text></g>
<g id="f5-3a"><rect class="tl" x="747" y="4769" width="224" height="50" rx="4"/><text x="755" y="4784">1、要加强教研，研究考纲和考试说明，把握<tspan x="755" dy="14">高考的命题趋势和考纲变化，精选习题，避免</tspan><tspan x="755" dy="14">陷入题海战术。</tspan></text></g>
<g id="f5-3b"><rect class="tl" x="747" y="4928" width="224" height="36" rx="4"/><text x="755" y="4943">2、要加强对学生和课堂教学的研究，在研究<tspan x="755" dy="14">中增效。</tspan></text></g>
<g id="f5-3b1"><rect class="tl" x="503" y="4843" width="224" height="36" rx="4"/><text x="511" y="4858">首先，要研究学生的基本情况，做到对症下药<tspan x="511" dy="14">。对不同类型的班级，对不同类型的学生，</tspan></text></g>
<g id="f5-3b2"><rect class="tl" x="503" y="4905" width="224" height="50" rx="4"/><text x="511" y="4920">采取不同的复习方法。并在深入了解和研究学<tspan x="511" dy="14">生的基础上，扎扎实实地做好培优扶弱和个性</tspan><tspan x="511" dy="14">化辅导工作。</tspan></text></g>
<g id="f5-3b3"><rect class="tl" x="503" y="4981" width="224" height="106" rx="4"/><text x="511" y="4996">其次，要优化教学方法和教学设计，努力提高<tspan x="511" dy="14">课堂效率。积极探索以学生活动为中心的备考</tspan><tspan x="511" dy="14">模式，充分发挥学生在复习备考中的主体作用</tspan><tspan x="511" dy="14">，努力调动和提高学生学习的主动性、积极性</tspan><tspan x="511" dy="14">和创造性。教师要精心备课，精心设计课堂教</tspan><tspan x="511" dy="14">学，点点滴滴的积累，仔仔细细的查缺补漏，</tspan><tspan x="511" dy="14">切切实实地提高课堂教学的有效性。</tspan></text></g>
<g id="f5-3c"><rect class="tl" x="779" y="5117" width="192" height="23" rx="4"/><text x="785" y="5132.5">3、要纠正学生在复习中易犯的错误。</text></g>
<g id="f5-3c1"><rect class="tl" x="539" y="5110" width="224" height="36" rx="4"/><text x="547" y="5125">我校学生在复习的思路上最容易犯的二大错误<tspan x="547" dy="14">主要是：</tspan></text></g>
<g id="f5-3d"><rect class="tl" x="747" y="5171" width="224" height="64" rx="4"/><text x="755" y="5186">1、一盘散沙式的复习思路。把复习的重点放<tspan x="755" dy="14">在对各个琐碎的知识点的复习上，缺乏对知识</tspan><tspan x="755" dy="14">体系宏观、总体性的把握，难于应付比较灵活</tspan><tspan x="755" dy="14">的综合性题目。</tspan></text></g>
<g id="f5-3e"><rect class="tl" x="747" y="5260" width="224" height="36" rx="4"/><text x="755" y="5275">2、漫无目的式的复习思路。缺乏复习计划，<tspan x="755" dy="14">自觉不自觉地陷入自由散漫，复习效率低。</tspan></text></g>
<g id="f5-3f"><rect class="tl" x="747" y="5348" width="224" height="36" rx="4"/><text x="755" y="5363">3、要重视对学生进行心理辅导和心理素质的<tspan x="755" dy="14">优化。</tspan></text></g>
<g id="f5-3f1"><rect class="tl" x="503" y="5320" width="224" height="92" rx="4"/><text x="511" y="5335">在高考前，一定要重视对学生的心理辅导，要<tspan x="511" dy="14">引导学生正确对待高考，要训练学生怎样保持</tspan><tspan x="511" dy="14">良好的心态，要引导学生怎样保持考试过程中</tspan><tspan x="511" dy="14">心态的稳定，要加强对学生非智力因素的培养</tspan><tspan x="511" dy="14">，让学生把物质准备，知识准备，心理准备充</tspan><tspan x="511" dy="14">分结合起来，在考场中发挥最佳的水平。</tspan></text></g>
<g id="f5-3g"><rect class="tl" x="747" y="5438" width="224" height="218" rx="4"/><text x="755" y="5453">4、加强集体备课，团结协作,发挥整体功能要<tspan x="755" dy="14">加强集体备课，做到定时间、定主讲人，定内</tspan><tspan x="755" dy="14">容(主要是明确考点,重、难点的突破方法、课</tspan><tspan x="755" dy="14">时练及周练的安排),定目标(主要是课时教学要</tspan><tspan x="755" dy="14">达到的知识和能力要求),在此基础上,形成各自</tspan><tspan x="755" dy="14">的个体教案,分工协作,责任到人,备课组长负责</tspan><tspan x="755" dy="14">备课组工作的总体安排,同时对学生进行定量,</tspan><tspan x="755" dy="14">定性分析(主要是对每次练习包括月考中每个</tspan><tspan x="755" dy="14">档次的学生数统计以及学生在双基和能力上存</tspan><tspan x="755" dy="14">在的问题进行分析)并做好错题收集和备课组</tspan><tspan x="755" dy="14">文字工作,为教学计划的调整,完善以及教学的</tspan><tspan x="755" dy="14">个性化提供客观依据,收集并整理高考信息。</tspan><tspan x="755" dy="14">相信通过本组同仁的努力探索和创新,不断提</tspan><tspan x="755" dy="14">升教学层次和水平,在明年的政治高考中会取</tspan><tspan x="755" dy="14">得比较理想的成绩。</tspan></text></g>
<g id="fan2"><rect x="1665" y="1708" width="211" height="39" rx="19.5" fill="#f07b2e"/><text class="w nt" x="1770.5" y="1732.3" text-anchor="middle">高中政治课实用教学计划范文2</text></g>
<g id="f2-1"><rect class="pc" x="1898" y="1048" width="76" height="22" rx="4"/><text x="1904" y="1063">一、指导思想</text></g>
<g id="f2-1a"><rect class="pc" x="1992" y="938" width="224" height="64" rx="4"/><text x="2000" y="953">(1)面向全体学生，实施素质教育，以培养学<tspan x="2000" dy="14">生的创新精神和实践能力为重点，为学生全面</tspan><tspan x="2000" dy="14">发展奠定基础，切实提高中学德育工作和课程</tspan><tspan x="2000" dy="14">的针对性和实效性。</tspan></text></g>
<g id="f2-1b"><rect class="pc" x="1992" y="1026" width="224" height="78" rx="4"/><text x="2000" y="1041">(2)结合高中思想政治新课程标准，明确所教<tspan x="2000" dy="14">年级的教学目标的要求，从整体上确定与把握</tspan><tspan x="2000" dy="14">教学内容，以新课程标准为教学依据，结合当</tspan><tspan x="2000" dy="14">前教学改革的新形势，学习和实践新的教学理</tspan><tspan x="2000" dy="14">念，探索以学生为主体的新的教学模式。</tspan></text></g>
<g id="f2-1c"><rect class="pc" x="1992" y="1130" width="224" height="36" rx="4"/><text x="2000" y="1145">(3)认真做好高考备课的工作,取得高考的丰收<tspan x="2000" dy="14">。</tspan></text></g>
<g id="f2-2"><rect class="pc" x="1898" y="1232" width="76" height="23" rx="4"/><text x="1904" y="1247.5">二、教学目标</text></g>
<g id="f2-2a"><rect class="pc" x="1992" y="1191" width="224" height="106" rx="4"/><text x="2000" y="1206">通过《思想政治》的教学和复习，使学生进一<tspan x="2000" dy="14">步巩固对马克思经济、政治、哲学和文化等一</tspan><tspan x="2000" dy="14">些基本理论知识的了解，使学生能够说明常见</tspan><tspan x="2000" dy="14">的经济和政治现象，学会运用相关原理分析问</tspan><tspan x="2000" dy="14">题的能力,学会理论联系实际的分析能力,提高</tspan><tspan x="2000" dy="14">学生对知识的理解和运用能力,加强学生的高</tspan><tspan x="2000" dy="14">考应试能力。</tspan></text></g>
<g id="f2-3"><rect class="pc" x="1898" y="1557" width="76" height="23" rx="4"/><text x="1904" y="1572.5">三、教学要求</text></g>
<g id="f2-3a"><rect class="pc" x="1992" y="1321" width="224" height="64" rx="4"/><text x="2000" y="1336">1.学习《课程标准》，并且结合《课程标准》<tspan x="2000" dy="14">中的识记、理解、运用的不同层次的基本要求</tspan><tspan x="2000" dy="14">，准确地贯彻在教学过程中，落实教学内容，</tspan><tspan x="2000" dy="14">把握教材的特点。</tspan></text></g>
<g id="f2-3b"><rect class="pc" x="1992" y="1409" width="224" height="92" rx="4"/><text x="2000" y="1424">2.要充分利用有限课时，努力提高课堂效率。<tspan x="2000" dy="14">重点突出，难点讲透。要积极创造条件，充分</tspan><tspan x="2000" dy="14">运用各种形象、直观和现代化教学手段进行教</tspan><tspan x="2000" dy="14">学，以期获得更好的教学效果。根据教学内容</tspan><tspan x="2000" dy="14">和学生思想实际，充分利用各种丰富的教育资</tspan><tspan x="2000" dy="14">源开展教学活动。</tspan></text></g>
<g id="f2-3c"><rect class="pc" x="1992" y="1525" width="224" height="78" rx="4"/><text x="2000" y="1540">3.认真贯彻理论联系实际的原则。将教材中的<tspan x="2000" dy="14">基本知识、现实生活中的实际问题、学生思想</tspan><tspan x="2000" dy="14">认识的问题有机结合起来，做到科学性和思想</tspan><tspan x="2000" dy="14">性统一，培养学生运用所学理论观察分析实际</tspan><tspan x="2000" dy="14">问题的能力。</tspan></text></g>
<g id="f2-3d"><rect class="pc" x="1992" y="1628" width="224" height="92" rx="4"/><text x="2000" y="1643">4.加强学习，更新教育观念，转变教学行为和<tspan x="2000" dy="14">学生的学习方式，积极有效地探索和实施研究</tspan><tspan x="2000" dy="14">性学习，充分调动学生学习的积极性、自主性</tspan><tspan x="2000" dy="14">。重视对学生学习过程的指导，引导学生通过</tspan><tspan x="2000" dy="14">自己的研究和思考获得结论。同时做好后进生</tspan><tspan x="2000" dy="14">的转换工作。</tspan></text></g>
<g id="f2-3e"><rect class="pc" x="1992" y="1744" width="224" height="78" rx="4"/><text x="2000" y="1759">5.在认真学习、备课、讲课的基础上，积极参<tspan x="2000" dy="14">加市和县里及校内的有关教研活动，互相学习</tspan><tspan x="2000" dy="14">，有意识地捕捉教学和教育的信息，更新教育</tspan><tspan x="2000" dy="14">、教学理念，提高自身的素质，以适应教学改</tspan><tspan x="2000" dy="14">革的新要求。</tspan></text></g>
<g id="f2-4"><rect class="pc" x="1898" y="1941" width="97" height="23" rx="4"/><text x="1904" y="1956.5">四、教学活动设计</text></g>
<g id="f2-4a"><rect class="pc" x="2013" y="1847" width="137" height="22" rx="4"/><text x="2019" y="1862">1.同组指导教师的教学意见</text></g>
<g id="f2-4b"><rect class="pc" x="2013" y="1894" width="73" height="23" rx="4"/><text x="2019" y="1909.5">2.师生交流会</text></g>
<g id="f2-4c"><rect class="pc" x="2013" y="1941" width="95" height="23" rx="4"/><text x="2019" y="1956.5">3.研究教学实践课</text></g>
<g id="f2-4d"><rect class="pc" x="2013" y="1988" width="157" height="23" rx="4"/><text x="2019" y="2003.5">4.参观示范课、讲座、集体备课</text></g>
<g id="f2-4e"><rect class="pc" x="2013" y="2035" width="105" height="23" rx="4"/><text x="2019" y="2050.5">5.新高考教育的研究</text></g>
<g id="f2-5"><rect class="pc" x="1898" y="2384" width="129" height="23" rx="4"/><text x="1904" y="2399.5">五、本学年教学工作要点</text></g>
<g id="f2-5a"><rect class="pc" x="2046" y="2104" width="224" height="36" rx="4"/><text x="2054" y="2119">1、认真研读新考纲，明确考点，把握考试方<tspan x="2054" dy="14">向。</tspan></text></g>
<g id="f2-5a1"><rect class="pc" x="2290" y="2083" width="224" height="78" rx="4"/><text x="2298" y="2098">认真研究考纲规定考试的性质，内容，形式及<tspan x="2298" dy="14">试卷结构，考查的知识范围，考试的基本型及</tspan><tspan x="2298" dy="14">要求;分析考点，明确每个考点的本质，了解</tspan><tspan x="2298" dy="14">考点的内涵和外延，明确复习的方向，提高复</tspan><tspan x="2298" dy="14">习的针对性和实效性。</tspan></text></g>
<g id="f2-5b"><rect class="pc" x="2046" y="2271" width="198" height="23" rx="4"/><text x="2052" y="2286.5">2、以教材为本，夯实基础，构建网络。</text></g>
<g id="f2-5b1"><rect class="pc" x="2264" y="2185" width="224" height="92" rx="4"/><text x="2272" y="2200">首先，立足教材，认真梳理知识，狠抓基础知<tspan x="2272" dy="14">识的掌握。以本为本，坚决、踏实地抓好学生</tspan><tspan x="2272" dy="14">对课本基础知识的掌握。每节课利用10分钟</tspan><tspan x="2272" dy="14">来考查学生对课本基础知识的掌握情况，以问</tspan><tspan x="2272" dy="14">答题的形式来进行考查，考不好的同学必须在</tspan><tspan x="2272" dy="14">限定的时间内去掌握。</tspan></text></g>
<g id="f2-5b2"><rect class="pc" x="2264" y="2302" width="224" height="64" rx="4"/><text x="2272" y="2317">其次，要构建知识网络。复习时注重知识体系<tspan x="2272" dy="14">的构建，重视网络化复习，注重学科内经济常</tspan><tspan x="2272" dy="14">识、哲学常识、政治常识的联系和综合。网络</tspan><tspan x="2272" dy="14">化复习从纵横两角度双向展开。</tspan></text></g>
<g id="f2-5c"><rect class="pc" x="2046" y="2415" width="190" height="23" rx="4"/><text x="2052" y="2430.5">3、关注热点，联系实际，服务能力。</text></g>
<g id="f2-5c1"><rect class="pc" x="2258" y="2388" width="224" height="78" rx="4"/><text x="2266" y="2403">复习基础知识的同时，要关注社会热点，明确<tspan x="2266" dy="14">什么政治理论可以解释和说明社会生活</tspan><tspan x="2266" dy="14">中的热点问题，引导学生分析热点问题产</tspan><tspan x="2266" dy="14">生的原因、影响和解决办法，使学生</tspan><tspan x="2266" dy="14">学会用所学知识分析和解决实际问题。</tspan></text></g>
<g id="f2-5d"><rect class="pc" x="2046" y="2540" width="188" height="23" rx="4"/><text x="2052" y="2555.5">4、强化训练，精选试题，提高水平。</text></g>
<g id="f2-5d1"><rect class="pc" x="2254" y="2492" width="224" height="120" rx="4"/><text x="2262" y="2507">在高考的最后阶段的复习过程中，结合近几年<tspan x="2262" dy="14">来文综测试反映较好的试题，进行思维过程的</tspan><tspan x="2262" dy="14">训练，熟悉高考文综试题的命题思路，领悟试</tspan><tspan x="2262" dy="14">题的设计立意、设问角度、答案组织等关键环</tspan><tspan x="2262" dy="14">节。通过练习查漏补缺，掌握答题规律、技巧</tspan><tspan x="2262" dy="14">，提高应试能力。每次的习题要经过筛选，练</tspan><tspan x="2262" dy="14">习要练，也要讲评，而且要讲得精，评得透，</tspan><tspan x="2262" dy="14">做到举一反三。</tspan></text></g>
<g id="f2-5e"><rect class="pc" x="2046" y="2657" width="219" height="23" rx="4"/><text x="2052" y="2672.5">5、加强对学生答题的训练，提高应试水平。</text></g>
<g id="f2-5e1"><rect class="pc" x="2285" y="2636" width="224" height="64" rx="4"/><text x="2293" y="2651">在练习的过程中，要注意答题技巧，答题规律<tspan x="2293" dy="14">的把握，同时要训练学生答题的格式，书写，</tspan><tspan x="2293" dy="14">答主观题要做到术语化、要点化、段落化、序</tspan><tspan x="2293" dy="14">号化，以增加非智力因素得分。</tspan></text></g>
<g id="fan4"><rect x="1659" y="3190" width="218" height="39" rx="19.5" fill="#f7c84f"/><text class="nt" x="1768" y="3214.3" text-anchor="middle">高中政治课实用教学计划范文4</text></g>
<g id="f4-1"><rect class="yl" x="1897" y="2725" width="224" height="64" rx="4"/><text x="1905" y="2740">高二思想政治课本以马克思主义为指南，结合<tspan x="1905" dy="14">中学生的认识和实际，构成世界观、人生观教</tspan><tspan x="1905" dy="14">育的一个体系。课本由前言和既带有专题性又</tspan><tspan x="1905" dy="14">有内在逻辑联系的八课组成。</tspan></text></g>
<g id="f4-2"><rect class="yl" x="1897" y="2815" width="224" height="36" rx="4"/><text x="1905" y="2830">贯穿全书的主线是"两个统一"：主观与客观的<tspan x="1905" dy="14">统一，个人与社会的统一。</tspan></text></g>
<g id="f4-3"><rect class="yl" x="1897" y="2875" width="224" height="50" rx="4"/><text x="1905" y="2890">课本的内在理论体系表现为"三个统一"：辩证<tspan x="1905" dy="14">唯物主义与历史唯物主义的统一，世界观和方</tspan><tspan x="1905" dy="14">法论的统一，世界观与人生观的统一。</tspan></text></g>
<g id="f4-4"><rect class="yl" x="1897" y="2949" width="64" height="22" rx="4"/><text x="1903" y="2964">教学总目标</text></g>
<g id="f4-5"><rect class="yl" x="1897" y="2996" width="224" height="176" rx="4"/><text x="1905" y="3011">知识方面：通过教学，使学生懂得世界为什么<tspan x="1905" dy="14">是客观存在的物质世界，能以自己的理解有条</tspan><tspan x="1905" dy="14">理地进行表述;懂得客观物质世界是运动的，</tspan><tspan x="1905" dy="14">运动是物质的根本性质，同时了解到运动不是</tspan><tspan x="1905" dy="14">杂乱无章，而是有规律的，应做到认识事物运</tspan><tspan x="1905" dy="14">动规律、按规律办事;懂得矛盾的含义，了解</tspan><tspan x="1905" dy="14">到我们的世界是一个充满矛盾的世界，没有矛</tspan><tspan x="1905" dy="14">盾就没有世界;懂得世界是普遍联系的整体，</tspan><tspan x="1905" dy="14">没有联系就没有世界，世界上根本不存在孤立</tspan><tspan x="1905" dy="14">的事物存在;懂得由事物的联系构成事物的运</tspan><tspan x="1905" dy="14">动，由运动引起事物的变化发展，分清事物运</tspan><tspan x="1905" dy="14">动、变化、发展的关系。</tspan></text></g>
<g id="f4-6"><rect class="yl" x="1897" y="3196" width="224" height="92" rx="4"/><text x="1905" y="3211">能力方面：通过教学，训练学生抽象思维能力<tspan x="1905" dy="14">，能初步体验出哲学理论的抽象性;训练学生</tspan><tspan x="1905" dy="14">辩证思维能力，初步体会"两个统一"、"三个</tspan><tspan x="1905" dy="14">辩证"之间的关系;提高辩证思维，分析具体实</tspan><tspan x="1905" dy="14">际问题的能力，分清唯物主义与唯心主义、辩</tspan><tspan x="1905" dy="14">证法与形而上学的表现。</tspan></text></g>
<g id="f4-7"><rect class="yl" x="1897" y="3311" width="224" height="64" rx="4"/><text x="1905" y="3326">觉悟方面：能了解有神论、形而上学的荒谬性<tspan x="1905" dy="14">，自觉坚持无神论、唯物辩证法，能自觉要求</tspan><tspan x="1905" dy="14">自己，想问题、办事情要从国情出发，要把立</tspan><tspan x="1905" dy="14">足点放在人民群众的根本利益上。</tspan></text></g>
<g id="f4-8"><rect class="yl" x="1897" y="3399" width="127" height="22" rx="4"/><text x="1903" y="3414">教材分析和教材对象分析</text></g>
<g id="f4-9"><rect class="yl" x="1897" y="3447" width="224" height="36" rx="4"/><text x="1905" y="3462">高二政治由前言和八课组成的，前言着重讲哲<tspan x="1905" dy="14">学的概念及学习马克思主义哲学的意义。</tspan></text></g>
<g id="f4-10"><rect class="yl" x="1897" y="3652" width="127" height="23" rx="4"/><text x="1903" y="3667.5">八课内容共分四个部分：</text></g>
<g id="f4-10a"><rect class="yl" x="2046" y="3508" width="224" height="50" rx="4"/><text x="2054" y="3523">第一部分：讲物质和意识辩证关系，是唯物论<tspan x="2054" dy="14">知识，它是马克思主义哲学的前提和最重要的</tspan><tspan x="2054" dy="14">组成部分，主要是第一课。</tspan></text></g>
<g id="f4-10b"><rect class="yl" x="2046" y="3584" width="224" height="64" rx="4"/><text x="2054" y="3599">第二部分：讲事物联系、运动、变化发展方<tspan x="2054" dy="14">面知识，是唯物辩证法部分，阐述唯物辩证法</tspan><tspan x="2054" dy="14">的根本观点及与形而上学的根本区别，主要是</tspan><tspan x="2054" dy="14">二、三、四三课内容。</tspan></text></g>
<g id="f4-10c"><rect class="yl" x="2046" y="3672" width="224" height="64" rx="4"/><text x="2054" y="3687">第三部分：从认识论上讲了现象、本质、认识<tspan x="2054" dy="14">的发展与深化及认识与实践的关系等等属于马</tspan><tspan x="2054" dy="14">克思主义哲学认识论部分，主要是五、八两课</tspan><tspan x="2054" dy="14">。</tspan></text></g>
<g id="f4-10d"><rect class="yl" x="2046" y="3766" width="224" height="50" rx="4"/><text x="2054" y="3781">第四部分：集中讲人生观问题，但不是纯粹的<tspan x="2054" dy="14">人生观，而是以主观与客观的统一观点来阐述</tspan><tspan x="2054" dy="14">人的行为准则、人生价值与理想。</tspan></text></g>
<g id="related"><rect x="1659" y="4051" width="263" height="47" rx="23.5" fill="#8dc163"/><text class="w nt" x="1683" y="4070">高中政治课实用教学计划范文相关<tspan x="1683" dy="18">文章：</tspan></text></g>
<g id="r1"><rect class="gn" x="1943" y="3849" width="148" height="22" rx="4"/><text x="1949" y="3864">★ 高中政治教学计划范文5篇</text></g>
<g id="r2"><rect class="gn" x="1943" y="3896" width="174" height="22" rx="4"/><text x="1949" y="3911">★ 高中政治教学计划范文最新10篇</text></g>
<g id="r3"><rect class="gn" x="1943" y="3944" width="148" height="22" rx="4"/><text x="1949" y="3959">★ 高中政治理论课教学计划5篇</text></g>
<g id="r4"><rect class="gn" x="1943" y="3991" width="184" height="22" rx="4"/><text x="1949" y="4006">★ 关于新学期高中政治教学计划范文</text></g>
<g id="r5"><rect class="gn" x="1943" y="4038" width="152" height="22" rx="4"/><text x="1949" y="4053">★ 优秀高中政治理论课教学计划</text></g>
<g id="r6"><rect class="gn" x="1943" y="4086" width="179" height="22" rx="4"/><text x="1949" y="4101">★ 关于新课标高中政治教学计划5篇</text></g>
<g id="r7"><rect class="gn" x="1943" y="4133" width="168" height="22" rx="4"/><text x="1949" y="4148">★ 高一政治课程教学计划安排5篇</text></g>
<g id="r8"><rect class="gn" x="1943" y="4180" width="175" height="22" rx="4"/><text x="1949" y="4195">★ 2021高一思想政治课程教学计划</text></g>
<g id="r9"><rect class="gn" x="1943" y="4228" width="179" height="22" rx="4"/><text x="1949" y="4243">★ 新学期中学政治学科教学计划5篇</text></g>
<g id="r10"><rect class="gn" x="1943" y="4275" width="189" height="22" rx="4"/><text x="1949" y="4290">★ 新学期高中政治教研组教学计划5篇</text></g>
</g>
</svg>
